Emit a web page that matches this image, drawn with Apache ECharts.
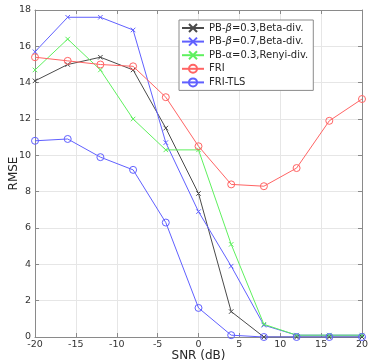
<!DOCTYPE html>
<html><head><meta charset="utf-8">
<script src="https://cdn.jsdelivr.net/npm/echarts@6/dist/echarts.min.js"></script>
<style>html,body{margin:0;padding:0;background:#fff}#c{width:368px;height:363px}</style>
</head><body><div id="c"></div>
<script>
const snr = [-20, -16, -12, -8, -4, 0, 4, 8, 12, 16, 20];
const pbBeta03 = [14.1, 15.0, 15.4, 14.7, 11.5, 7.9, 1.4, 0.0, 0.0, 0.0, 0.0];
const pbBeta07 = [15.7, 17.6, 17.6, 16.9, 10.7, 6.9, 3.9, 0.65, 0.1, 0.1, 0.1];
const pbRenyi03 = [14.7, 16.4, 14.7, 12.0, 10.3, 10.3, 5.1, 0.7, 0.1, 0.1, 0.1];
const fri = [15.4, 15.2, 15.0, 14.9, 13.2, 10.5, 8.4, 8.3, 9.3, 11.9, 13.1];
const friTls = [10.8, 10.9, 9.9, 9.2, 6.3, 1.6, 0.1, 0.0, 0.0, 0.0, 0.0];
const names = ['PB-{i|β}=0.3,Beta-div.', 'PB-{i|β}=0.7,Beta-div.', 'PB-α=0.3,Renyi-div.', 'FRI', 'FRI-TLS'];
const seriesNames = ['PB-β=0.3,Beta-div.', 'PB-β=0.7,Beta-div.', 'PB-α=0.3,Renyi-div.', 'FRI', 'FRI-TLS'];
const xTicks = [-20, -15, -10, -5, 0, 5, 10, 15, 20];
const yTicks = [0, 2, 4, 6, 8, 10, 12, 14, 16, 18];

const colors = ['#4a4a4a', '#6060ff', '#5ef05e', '#ff6464', '#6060ff'];
const xSym = 'path://M0,0L10,10M10,0L0,10';
const dataSets = [pbBeta03, pbBeta07, pbRenyi03, fri, friTls];
const symbols = [xSym, xSym, xSym, 'circle', 'circle'];
const sizes = [4.5, 4.5, 4.5, 7, 7];

const chart = echarts.init(document.getElementById('c'));
const font = 'DejaVu Sans';
const axisCommon = {
  type: 'value',
  axisLine: {show: true, onZero: false, lineStyle: {color: '#8a8a8a', width: 1}},
  axisTick: {show: true, inside: true, length: 4, lineStyle: {color: '#8a8a8a'}},
  splitLine: {show: true, lineStyle: {color: '#e6e6e6', width: 1}},
};
chart.setOption({
  animation: false,
  backgroundColor: '#fff',
  grid: {left: 35, right: 6, top: 10, bottom: 26, containLabel: false, outerBoundsMode: 'none'},
  legend: {
    orient: 'vertical', left: 179, top: 20,
    backgroundColor: '#fff', borderColor: '#8a8a8a', borderWidth: 1,
    padding: [3, 5, 3, 2], itemGap: 3.6, itemWidth: 22, itemHeight: 10,
    textStyle: {fontFamily: font, fontSize: 10, color: '#262626',
      rich: {i: {fontStyle: 'italic', fontFamily: font, fontSize: 10, color: '#262626'}}},
    formatter: function (n) { return names[seriesNames.indexOf(n)]; },
    data: seriesNames
  },
  xAxis: [
    Object.assign({}, axisCommon, {
      min: -20, max: 20, interval: 5, position: 'bottom',
      name: 'SNR (dB)', nameLocation: 'middle', nameGap: 13, nameMoveOverlap: false,
      nameTextStyle: {fontFamily: font, fontSize: 12, color: '#262626'},
      axisLabel: {fontFamily: font, fontSize: 9.5, color: '#333', margin: 3,
        formatter: v => xTicks.includes(v) ? String(v) : ''}
    }),
    Object.assign({}, axisCommon, {
      min: -20, max: 20, interval: 5, position: 'top',
      axisLabel: {show: false}, splitLine: {show: false}
    })
  ],
  yAxis: [
    Object.assign({}, axisCommon, {
      min: 0, max: 18, interval: 2, position: 'left',
      name: 'RMSE', nameLocation: 'middle', nameGap: 15, nameRotate: 90, nameMoveOverlap: false,
      nameTextStyle: {fontFamily: font, fontSize: 12, color: '#262626'},
      axisLabel: {fontFamily: font, fontSize: 9.5, color: '#333', margin: 4,
        formatter: v => yTicks.includes(v) ? String(v) : ''}
    }),
    Object.assign({}, axisCommon, {
      min: 0, max: 18, interval: 2, position: 'right',
      axisLabel: {show: false}, splitLine: {show: false}
    })
  ],
  series: seriesNames.map((n, i) => ({
    name: n, type: 'line', xAxisIndex: 0, yAxisIndex: 0,
    data: snr.map((x, j) => [x, dataSets[i][j]]),
    symbol: symbols[i], symbolSize: sizes[i], showAllSymbol: true,
    lineStyle: {color: colors[i], width: 1},
    itemStyle: {color: 'rgba(0,0,0,0)', borderColor: colors[i], borderWidth: 1},
    emphasis: {disabled: true}
  }))
});
</script></body></html>
